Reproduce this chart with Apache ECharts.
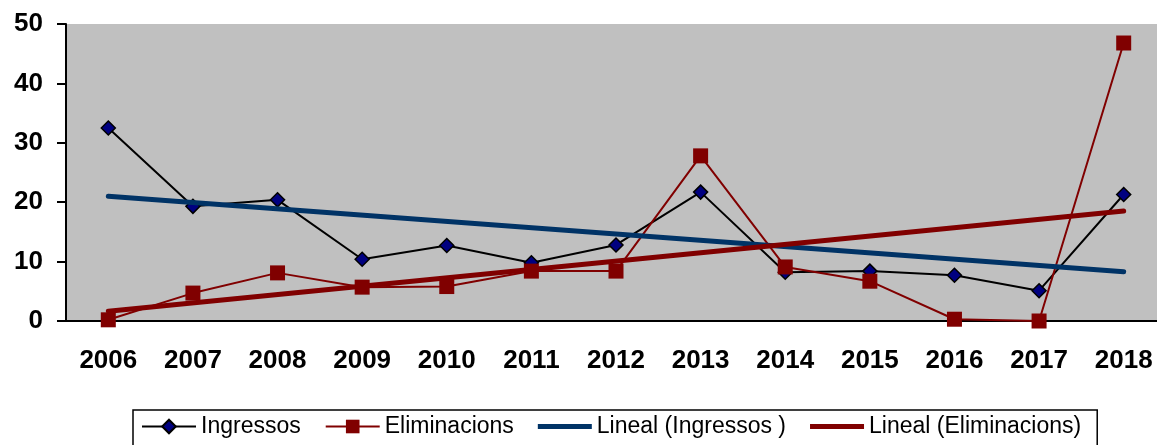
<!DOCTYPE html>
<html>
<head>
<meta charset="utf-8">
<script src="https://cdn.jsdelivr.net/npm/echarts@6/dist/echarts.min.js"></script>
<style>
html, body { margin: 0; padding: 0; background: #fff; }
#chart { width: 1157px; height: 445px; }
</style>
</head>
<body>
<div id="chart"></div>
<script>
var years = ['2006', '2007', '2008', '2009', '2010', '2011', '2012', '2013', '2014', '2015', '2016', '2017', '2018'];
var ingressos = [32.5, 19.3, 20.4, 10.4, 12.7, 9.8, 12.8, 21.7, 8.2, 8.4, 7.7, 5.1, 21.3];
var eliminacions = [0.2, 4.7, 8.1, 5.7, 5.8, 8.4, 8.4, 27.8, 9.1, 6.7, 0.3, 0, 46.8];
// tendencias: solo extremos
var linealIngressos = [21.0, null, null, null, null, null, null, null, null, null, null, null, 8.3];
var linealEliminacions = [1.65, null, null, null, null, null, null, null, null, null, null, null, 18.5];
var yTicks = [0, 10, 20, 30, 40, 50];

var chart = echarts.init(document.getElementById('chart'));
var font = '"Liberation Sans", Arial, sans-serif';
var barIcon = 'path://M0,0 L54,0 L54,5 L0,5 Z';

var option = {
	animation : false,
	backgroundColor : '#fff',
	grid : {
		left : 66,
		top : 24,
		width : 1100,
		height : 297,
		outerBoundsMode : 'none',
		containLabel : false,
		show : true,
		backgroundColor : '#c0c0c0',
		borderWidth : 0
	},
	legend : {
		data : [ 'Ingressos', 'Eliminacions', {
			name : 'Lineal (Ingressos )',
			icon : barIcon
		}, {
			name : 'Lineal (Eliminacions)',
			icon : barIcon
		} ],
		left : 133,
		top : 410,
		orient : 'horizontal',
		itemWidth : 54,
		itemHeight : 17,
		itemGap : 24,
		symbolKeepAspect : true,
		padding : [ 5, 16, 30, 8 ],
		borderColor : '#000',
		borderWidth : 1.5,
		textStyle : {
			fontFamily : font,
			fontSize : 23,
			color : '#000'
		}
	},
	xAxis : {
		type : 'category',
		data : years,
		boundaryGap : true,
		axisLine : {
			lineStyle : { color : '#000', width : 2 }
		},
		axisTick : {
			interval : 0,
			length : 9,
			lineStyle : { color : '#000', width : 2 }
		},
		axisLabel : {
			interval : 0,
			margin : 27,
			fontFamily : font,
			fontSize : 26,
			fontWeight : 'bold',
			color : '#000'
		},
		splitLine : { show : false }
	},
	yAxis : {
		type : 'value',
		min : yTicks[0],
		max : yTicks[yTicks.length - 1],
		interval : 10,
		axisLine : {
			show : true,
			lineStyle : { color : '#000', width : 2 }
		},
		axisTick : {
			show : true,
			length : 9,
			lineStyle : { color : '#000', width : 2 }
		},
		axisLabel : {
			margin : 23,
			fontFamily : font,
			fontSize : 26,
			fontWeight : 'bold',
			color : '#000'
		},
		splitLine : { show : false }
	},
	series : [ {
		name : 'Ingressos',
		type : 'line',
		data : ingressos,
		symbol : 'diamond',
		symbolSize : 14,
		z : 3,
		lineStyle : { color : '#000', width : 2 },
		itemStyle : { color : '#000080', borderColor : '#000', borderWidth : 1.5 }
	}, {
		name : 'Eliminacions',
		type : 'line',
		data : eliminacions,
		symbol : 'rect',
		symbolSize : 15,
		z : 3,
		lineStyle : { color : '#800000', width : 2 },
		itemStyle : { color : '#800000', borderWidth : 0 }
	}, {
		name : 'Lineal (Ingressos )',
		type : 'line',
		data : linealIngressos,
		connectNulls : true,
		symbol : 'none',
		z : 4,
		lineStyle : { color : '#003366', width : 5, cap : 'round' },
		itemStyle : { color : '#003366' }
	}, {
		name : 'Lineal (Eliminacions)',
		type : 'line',
		data : linealEliminacions,
		connectNulls : true,
		symbol : 'none',
		z : 4,
		lineStyle : { color : '#800000', width : 5, cap : 'round' },
		itemStyle : { color : '#800000' }
	} ]
};

chart.setOption(option);
</script>
</body>
</html>
